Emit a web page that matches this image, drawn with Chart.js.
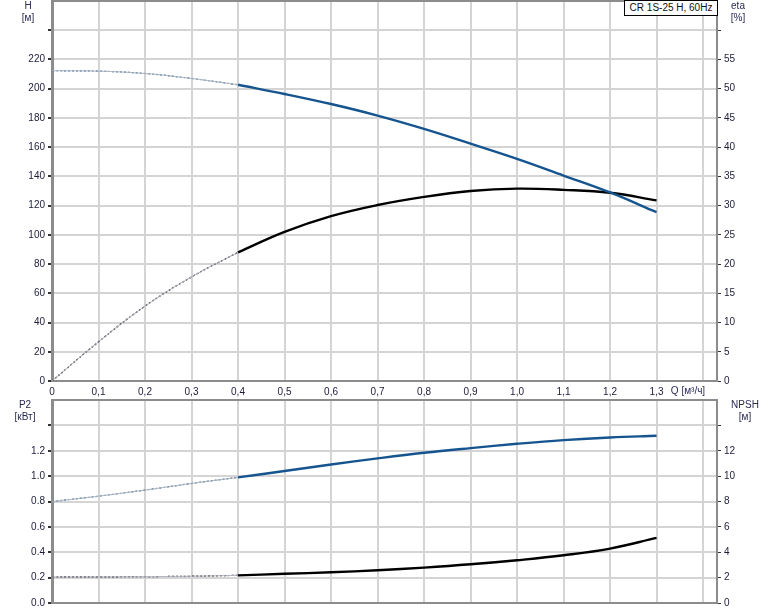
<!DOCTYPE html>
<html>
<head>
<meta charset="utf-8">
<script src="https://cdn.jsdelivr.net/npm/chart.js@4"></script>
<style>
  html, body { margin: 0; padding: 0; background: #fff; }
  #wrap { position: relative; width: 774px; height: 611px; overflow: hidden; font-family: "Liberation Sans", Arial, sans-serif; }
  canvas { position: absolute; left: 0; }
  .lbl { position: absolute; font-size: 10px; color: #2a2a55; transform: translate(-50%, -50%); white-space: nowrap; line-height: 1; }
  #model { position: absolute; left: 624px; top: 0px; width: 94px; height: 16px; box-sizing: border-box; border: 1px solid #000; background: #fff; font-size: 10px; line-height: 14px; text-align: center; color: #111; white-space: nowrap; }
</style>
</head>
<body>
<div id="wrap">
  <canvas id="top" width="774" height="400" style="top:0px"></canvas>
  <canvas id="bot" width="774" height="213" style="top:398px"></canvas>
  <div class="lbl" style="left:28px;top:6px">H</div>
  <div class="lbl" style="left:28px;top:18px">[м]</div>
  <div class="lbl" style="left:738px;top:6px">eta</div>
  <div class="lbl" style="left:738px;top:18px">[%]</div>
  <div id="model">CR 1S-25 H, 60Hz</div>
  <div class="lbl" style="left:688px;top:391px">Q [м³/ч]</div>
  <div class="lbl" style="left:25px;top:405px">P2</div>
  <div class="lbl" style="left:25px;top:417px">[кВт]</div>
  <div class="lbl" style="left:745px;top:405px">NPSH</div>
  <div class="lbl" style="left:745px;top:417px">[м]</div>
</div>
<script>
// ---- data ----
const qValues = [0, 0.1, 0.2, 0.3, 0.4, 0.5, 0.6, 0.7, 0.8, 0.9, 1.0, 1.1, 1.2, 1.3];
const headM   = [212.3, 212.0, 210.4, 207.0, 202.7, 196.4, 189.5, 181.6, 172.5, 162.4, 152.0, 140.6, 129.0, 115.5];
const etaPct  = [0, 6.7, 12.8, 17.8, 22.0, 25.5, 28.2, 30.1, 31.5, 32.5, 32.9, 32.7, 32.2, 30.9];
const p2kW    = [0.80, 0.842, 0.89, 0.942, 0.99, 1.04, 1.092, 1.14, 1.184, 1.221, 1.255, 1.284, 1.305, 1.318];
const npshM   = [2.05, 2.06, 2.08, 2.11, 2.18, 2.30, 2.42, 2.58, 2.79, 3.05, 3.37, 3.76, 4.29, 5.13];
const solidFromIndex = 4; // curves are dotted below Q = 0.4

const xTicks    = [0, 0.1, 0.2, 0.3, 0.4, 0.5, 0.6, 0.7, 0.8, 0.9, 1.0, 1.1, 1.2, 1.3, 1.4];
const hTicks    = [0, 20, 40, 60, 80, 100, 120, 140, 160, 180, 200, 220, 240];
const etaTicks  = [0, 5, 10, 15, 20, 25, 30, 35, 40, 45, 50, 55, 60];
const p2Ticks   = [0, 0.2, 0.4, 0.6, 0.8, 1.0, 1.2, 1.4];
const npshTicks = [0, 2, 4, 6, 8, 10, 12, 14];

const X_MAX = 1.43, H_MAX = 260, ETA_MAX = 65, P2_MAX = 1.6, NPSH_MAX = 16;
const BLUE = '#15548f', BLACK = '#000000';
const GRID = '#d4d4d4', FRAME = '#8c8c8c', TICKTXT = '#1c1c3a';

Chart.defaults.font.family = '"Liberation Sans", Arial, sans-serif';
Chart.defaults.font.size = 10;
Chart.defaults.color = TICKTXT;

function pts(ys, from, to) {
  const out = [];
  for (let i = from; i <= to; i++) out.push({ x: qValues[i], y: ys[i] });
  return out;
}
function curve(ys, axis, color) {
  const last = qValues.length - 1;
  const base = { yAxisID: axis, pointRadius: 0, tension: 0.4, fill: false };
  return [
    Object.assign({}, base, { data: pts(ys, 0, solidFromIndex), borderColor: '#b4b8c2', borderWidth: 1 }),
    Object.assign({}, base, { data: pts(ys, 0, solidFromIndex), borderColor: color, borderWidth: 1.2, borderDash: [2, 2] }),
    Object.assign({}, base, { data: pts(ys, solidFromIndex, last), borderColor: color, borderWidth: 2.4 })
  ];
}
const setTicks = (list) => (s) => { s.ticks = list.map(v => ({ value: v })); };

const topBorder = {
  id: 'topBorder',
  afterDraw(chart) {
    const a = chart.chartArea, c = chart.ctx;
    c.save();
    c.strokeStyle = FRAME; c.lineWidth = 2;
    c.beginPath(); c.moveTo(a.left, a.top); c.lineTo(a.right, a.top); c.stroke();
    c.restore();
  }
};

function yScale(min, max, ticks, fmt, width, position) {
  const left = position === 'left';
  return {
    type: 'linear', position, min, max,
    afterBuildTicks: setTicks(ticks),
    afterFit: (s) => { s.width = width; s.paddingTop = 0; s.paddingBottom = 0; },
    grid: left ? { color: GRID, lineWidth: 2, tickLength: 4, tickColor: '#333', drawTicks: true }
               : { drawOnChartArea: false, tickLength: 4, tickColor: '#333', drawTicks: true },
    border: { color: FRAME, width: left ? 3 : 2 },
    ticks: { autoSkip: false, padding: 3, callback: fmt }
  };
}

function xScale(showLabels, height) {
  return {
    type: 'linear', position: 'bottom', min: 0, max: X_MAX,
    afterBuildTicks: setTicks(xTicks),
    afterFit: (s) => { s.height = height; s.paddingLeft = 0; s.paddingRight = 0; },
    grid: { color: GRID, lineWidth: 2, drawTicks: false },
    border: { color: FRAME, width: 2 },
    ticks: {
      display: showLabels, autoSkip: false, maxRotation: 0, padding: 5,
      callback: (v) => v > 1.35 ? '' : (v === 0 ? '0' : v.toFixed(1).replace('.', ','))
    }
  };
}

const common = {
  responsive: false, animation: false, devicePixelRatio: 1,
  plugins: { legend: { display: false }, tooltip: { enabled: false } }
};

new Chart(document.getElementById('top'), {
  type: 'line',
  data: { datasets: [...curve(headM, 'y', BLUE), ...curve(etaPct, 'y2', BLACK)] },
  options: Object.assign({}, common, {
    layout: { padding: { top: 1, left: 0, right: 0, bottom: 0 } },
    scales: {
      x: xScale(true, 19),
      y: yScale(0, H_MAX, hTicks, (v) => v <= 220 ? String(v) : '', 52, 'left'),
      y2: yScale(0, ETA_MAX, etaTicks, (v) => v <= 55 ? String(v) : '', 57, 'right')
    }
  }),
  plugins: [topBorder]
});

new Chart(document.getElementById('bot'), {
  type: 'line',
  data: { datasets: [...curve(p2kW, 'y', BLUE), ...curve(npshM, 'y2', BLACK)] },
  options: Object.assign({}, common, {
    layout: { padding: { top: 2, left: 0, right: 0, bottom: 0 } },
    scales: {
      x: xScale(false, 8),
      y: yScale(0, P2_MAX, p2Ticks, (v) => v <= 1.25 ? v.toFixed(1) : '', 52, 'left'),
      y2: yScale(0, NPSH_MAX, npshTicks, (v) => v <= 12 ? String(v) : '', 57, 'right')
    }
  }),
  plugins: [topBorder]
});
</script>
</body>
</html>
